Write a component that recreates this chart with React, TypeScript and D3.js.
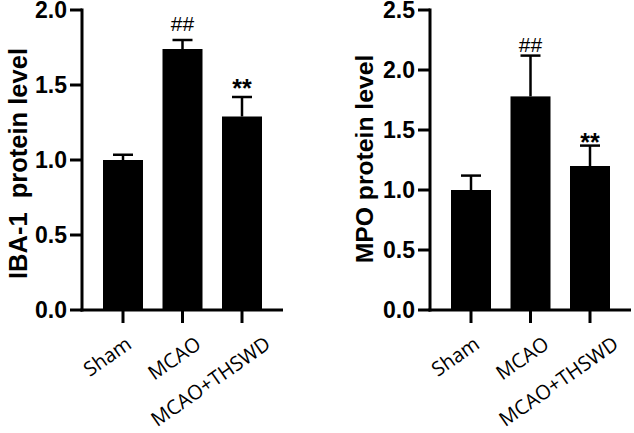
import React from "react";
import * as d3 from "d3";

const categories = ["Sham", "MCAO", "MCAO+THSWD"];
const ibaMeans = [1.0, 1.74, 1.29];
const ibaErrors = [0.035, 0.06, 0.13];
const mpoMeans = [1.0, 1.78, 1.2];
const mpoErrors = [0.12, 0.34, 0.17];
const marks = ["", "##", "**"];
const ibaTicks = [0, 0.5, 1.0, 1.5, 2.0];
const mpoTicks = [0, 0.5, 1.0, 1.5, 2.0, 2.5];

const W = 634;
const H = 433;

type PanelProps = {
  axisX: number;
  yMax: number;
  ticks: number[];
  means: number[];
  errors: number[];
  title: string;
  titleX: number;
  titleY: number;
  titleSize: number;
  lift: number;
};

const yTop = 10;
const yBottom = 310;
const axisWidth = 201;
const sans = "'Liberation Sans', Arial, sans-serif";

function Panel(p: PanelProps) {
  const y = d3.scaleLinear().domain([0, p.yMax]).range([yBottom, yTop]);
  const x = d3
    .scalePoint<string>()
    .domain(categories)
    .range([p.axisX + 41, p.axisX + axisWidth - 41]);
  const xl = d3
    .scalePoint<string>()
    .domain(categories)
    .range([p.axisX + 41 + 10, p.axisX + axisWidth - 41 + 30]);
  const bw = 40;
  const cap = 20;
  const fmt = d3.format(".1f");
  return (
    <g>
      {categories.map((c, i) => {
        const cx = x(c)!;
        const top = y(p.means[i]);
        const ey = y(p.means[i] + p.errors[i]);
        return (
          <g key={c}>
            <line x1={cx} x2={cx} y1={top} y2={ey} stroke="#000" strokeWidth={2.5} />
            <line x1={cx - cap / 2} x2={cx + cap / 2} y1={ey} y2={ey} stroke="#000" strokeWidth={2.5} />
            <rect x={cx - bw / 2} y={top} width={bw} height={yBottom - top} fill="#000" />
            {marks[i] === "##" && (
              <text x={cx} y={ey - 4 - p.lift} textAnchor="middle" fontFamily={sans} fontSize={21} fill="#000">
                {marks[i]}
              </text>
            )}
            {marks[i] === "**" && (
              <text x={cx} y={ey + 5.3 - p.lift} textAnchor="middle" fontFamily={sans} fontWeight="bold" fontSize={25} fill="#000">
                {marks[i]}
              </text>
            )}
            <line x1={cx} x2={cx} y1={yBottom} y2={yBottom + 13} stroke="#000" strokeWidth={3} />
            <text
              transform={`translate(${xl(c)},${347}) rotate(-35)`}
              textAnchor="end"
              fontFamily="'Open Sans', sans-serif"
              fontSize={20}
              fill="#000"
            >
              {c}
            </text>
          </g>
        );
      })}
      {p.ticks.map((t) => (
        <g key={t}>
          <line x1={p.axisX - 12} x2={p.axisX} y1={y(t)} y2={y(t)} stroke="#000" strokeWidth={3} />
          <text
            x={p.axisX - 15}
            y={y(t)}
            dy="0.36em"
            textAnchor="end"
            fontFamily={sans}
            fontWeight="bold"
            fontSize={23}
            fill="#000"
          >
            {fmt(t)}
          </text>
        </g>
      ))}
      <line x1={p.axisX} x2={p.axisX} y1={yTop - 1.5} y2={yBottom + 1.5} stroke="#000" strokeWidth={3} />
      <line x1={p.axisX - 1.5} x2={p.axisX + axisWidth} y1={yBottom} y2={yBottom} stroke="#000" strokeWidth={3} />
      <text
        transform={`translate(${p.titleX},${p.titleY}) rotate(-90)`}
        textAnchor="middle"
        fontFamily={sans}
        fontWeight="bold"
        fontSize={p.titleSize}
        fill="#000"
        style={{ whiteSpace: "pre" }}
      >
        {p.title}
      </text>
    </g>
  );
}

export default function App() {
  return (
    <svg
      width={W}
      height={H}
      viewBox={`0 0 ${W} ${H}`}
      style={{ position: "absolute", left: 0, top: 0, background: "#fff" }}
    >
      <rect width={W} height={H} fill="#fff" />
      <Panel
        axisX={82}
        yMax={2.0}
        ticks={ibaTicks}
        means={ibaMeans}
        errors={ibaErrors}
        title={"IBA-1\u00a0\u00a0protein level"}
        titleX={27}
        titleY={163.5}
        titleSize={25.5}
        lift={5}
      />
      <Panel
        axisX={430}
        yMax={2.5}
        ticks={mpoTicks}
        means={mpoMeans}
        errors={mpoErrors}
        title="MPO protein level"
        titleX={373}
        titleY={159}
        titleSize={24.7}
        lift={0}
      />
    </svg>
  );
}
